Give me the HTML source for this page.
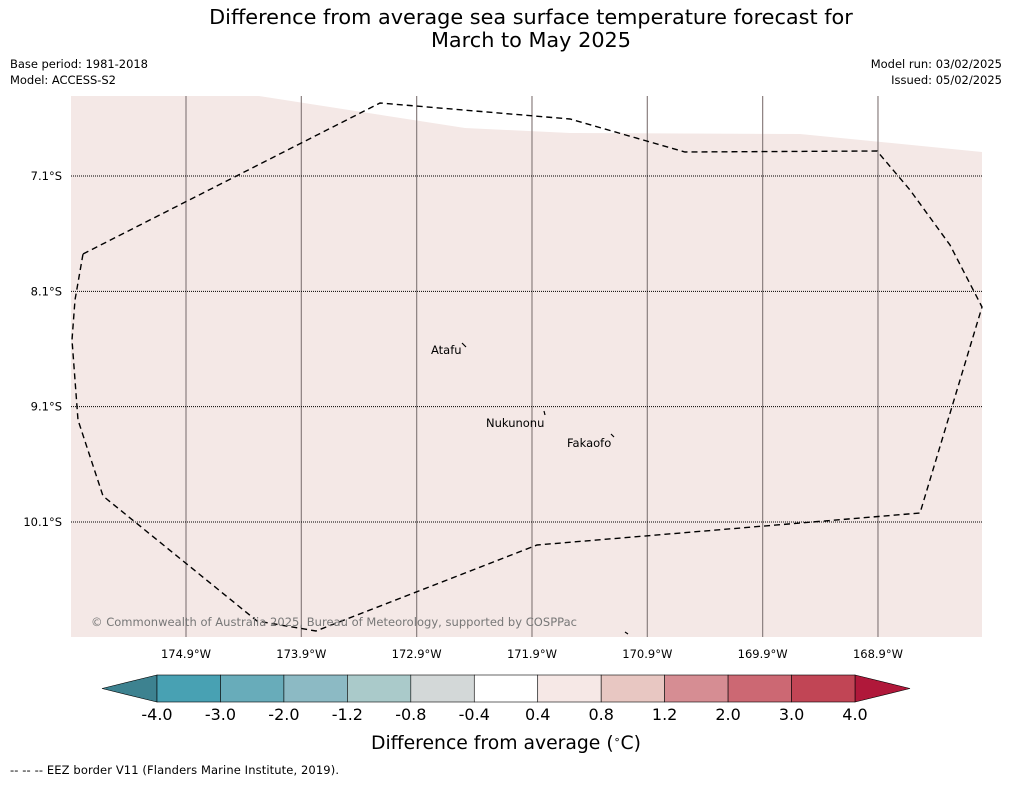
<!DOCTYPE html>
<html><head><meta charset="utf-8"><style>
body{margin:0;background:#fff;width:1011px;height:781px;overflow:hidden;font-family:"DejaVu Sans","Liberation Sans",sans-serif}
svg text{font-family:"DejaVu Sans","Liberation Sans",sans-serif}
</style></head><body>
<svg width="1011" height="781" xmlns="http://www.w3.org/2000/svg">
<text x="531" y="24" font-size="20.8" text-anchor="middle">Difference from average sea surface temperature forecast for</text>
<text x="531" y="47" font-size="20.8" text-anchor="middle">March to May 2025</text>
<text x="10" y="68" font-size="11.5" textLength="138">Base period: 1981-2018</text>
<text x="10" y="84" font-size="11.5" textLength="106">Model: ACCESS-S2</text>
<text x="1002" y="68" font-size="11.5" text-anchor="end">Model run: 03/02/2025</text>
<text x="1002" y="84" font-size="11.5" text-anchor="end">Issued: 05/02/2025</text>
<g>
<polygon points="71,96 259,96 465,128 570,133 800,134 982,152 982,637 71,637" fill="#f4e8e6"/>
<g id="vgrid" stroke="#8a7f7f" stroke-width="1.2"></g>
<g id="hgrid" stroke="#000" stroke-width="1" stroke-dasharray="1,1"></g>
<polyline points="83,254 380,103 570,119 685,152 877,151 910,190 950,245 982,307 920,513 537,545 316,631 257,621 103,496 78,420 72,340 75,300 83,254" fill="none" stroke="#000" stroke-width="1.4" stroke-dasharray="6,4"/>
<path d="M462,343 l4,4 M544,411 l1,4 M611,434 l3,3 M625,632 l3,2" stroke="#000" stroke-width="1.2"/>
<text x="431" y="354" font-size="11.5">Atafu</text>
<text x="486" y="427" font-size="11.5">Nukunonu</text>
<text x="567" y="447" font-size="11.5">Fakaofo</text>
<text x="91" y="626" font-size="11.5" fill="#777" textLength="486">© Commonwealth of Australia 2025, Bureau of Meteorology, supported by COSPPac</text>
</g>
<g id="xlabels" font-size="11.5"></g>
<g id="ylabels" font-size="11.5"></g>
<g id="cbar"></g>
<text x="506" y="749" font-size="18.8" text-anchor="middle">Difference from average (<tspan dy="-6" font-size="11">∘</tspan><tspan dy="6">C)</tspan></text>
<text x="10" y="774" font-size="11.5" textLength="329">--  --  -- EEZ border V11 (Flanders Marine Institute, 2019).</text>
</svg>
<script>
const lonLabels=["174.9°W","173.9°W","172.9°W","171.9°W","170.9°W","169.9°W","168.9°W"];
const lonValues=[-174.9,-173.9,-172.9,-171.9,-170.9,-169.9,-168.9];
const latLabels=["7.1°S","8.1°S","9.1°S","10.1°S"];
const latValues=[-7.1,-8.1,-9.1,-10.1];
const cbTicks=["-4.0","-3.0","-2.0","-1.2","-0.8","-0.4","0.4","0.8","1.2","2.0","3.0","4.0"];
const cbColors=["#48a1b3","#68acba","#8cbac4","#aacaca","#d3d8d8","#ffffff","#f6e8e6","#e8c7c2","#d68d93","#cc6873","#c14555"];
const NS="http://www.w3.org/2000/svg";
const xs=v=>186+(v-(-174.9))*115.33;
const ys=v=>176+((-7.1)-v)*115.33;
function mk(t,a,p){const e=document.createElementNS(NS,t);for(const k in a)e.setAttribute(k,a[k]);p.appendChild(e);return e;}
const vg=document.getElementById('vgrid'),hg=document.getElementById('hgrid'),xl=document.getElementById('xlabels'),yl=document.getElementById('ylabels'),cb=document.getElementById('cbar');
lonValues.forEach((v,i)=>{
 const l=mk('line',{x1:xs(v),x2:xs(v),y1:96,y2:637},vg);
 
 
 const t=mk('text',{x:xs(v),y:658,'text-anchor':'middle'},xl);t.textContent=lonLabels[i];
 
 
});
latValues.forEach((v,i)=>{
 const l=mk('line',{x1:71,x2:982,y1:ys(v),y2:ys(v)},hg);
 
 
 const t=mk('text',{x:62,y:ys(v)+4,'text-anchor':'end'},yl);t.textContent=latLabels[i];
 
 
});
const x0=157,x1=855,y0=675,h=27,w=(x1-x0)/cbColors.length;
const lt=mk('polygon',{points:`${x0},${y0} ${x0},${y0+h} 102,${y0+h/2}`,fill:'#3d8290',stroke:'#000','stroke-width':0.6},cb);


const rt=mk('polygon',{points:`${x1},${y0} ${x1},${y0+h} 910,${y0+h/2}`,fill:'#b0183a',stroke:'#000','stroke-width':0.6},cb);


cbColors.forEach((c,i)=>{
 const r=mk('rect',{x:x0+i*w,y:y0,width:w,height:h,fill:c,stroke:'#000','stroke-width':0.6},cb);
 
 
});
cbTicks.forEach((s,i)=>{
 const t=mk('text',{x:x0+i*w,y:720,'text-anchor':'middle','font-size':16},cb);t.textContent=s;
 
 
});
</script>
</body></html>
